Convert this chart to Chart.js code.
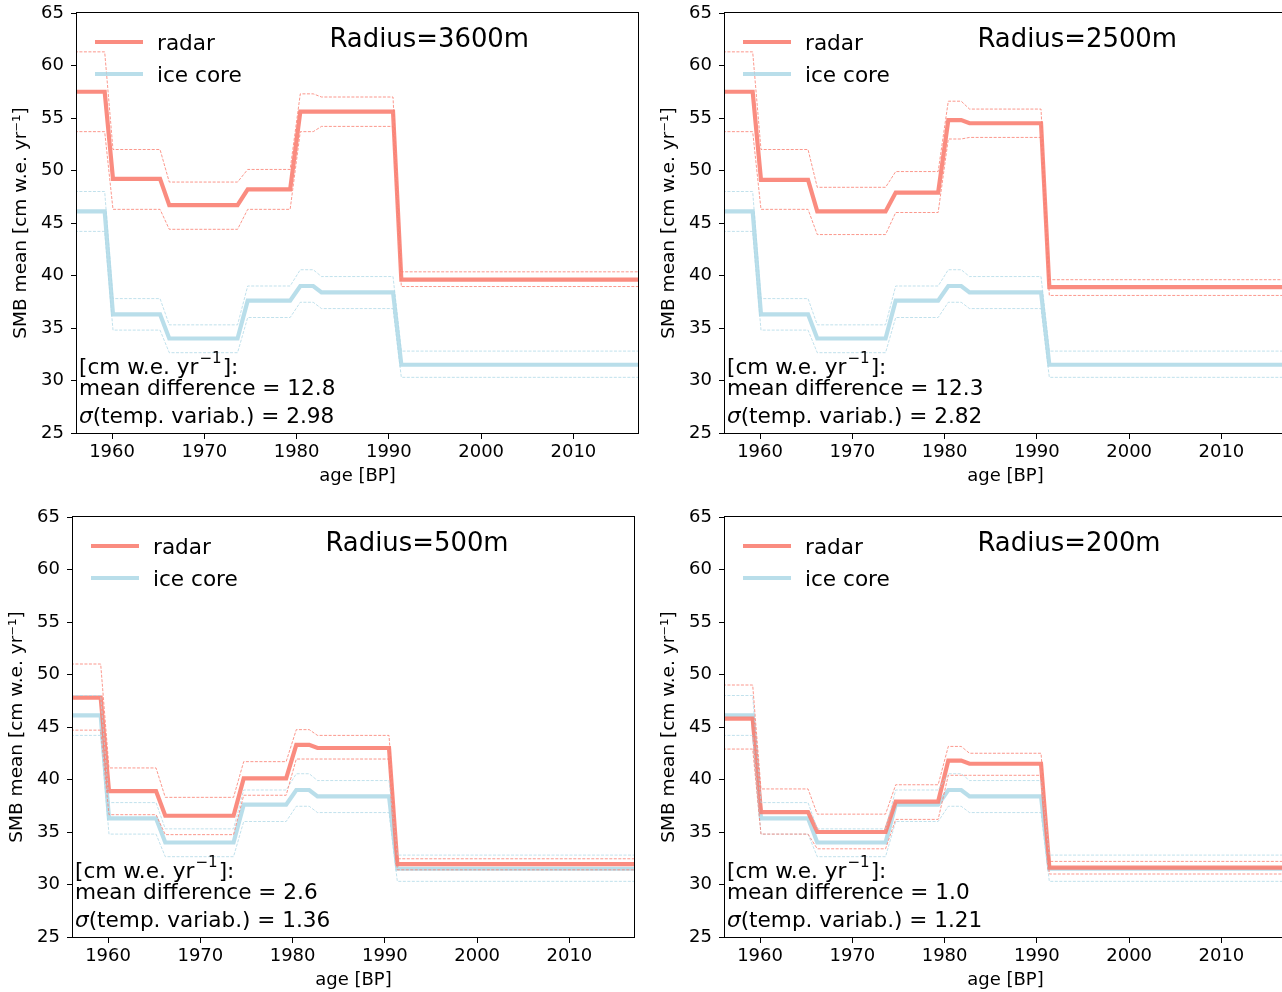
<!DOCTYPE html>
<html>
<head>
<meta charset="utf-8">
<script src="https://cdn.jsdelivr.net/npm/chart.js@4.4.0/dist/chart.umd.min.js"></script>
<style>
html, body { margin: 0; padding: 0; background: #fff; overflow: hidden; }
#wrap { position: relative; width: 1282px; height: 992px; overflow: hidden; }
canvas { position: absolute; }
</style>
</head>
<body>
<div id="wrap">
  <canvas id="c0" width="650" height="495" style="left:0px;top:0px"></canvas>
  <canvas id="c1" width="650" height="495" style="left:648px;top:0px"></canvas>
  <canvas id="c2" width="650" height="495" style="left:-4px;top:504px"></canvas>
  <canvas id="c3" width="650" height="495" style="left:648px;top:504px"></canvas>
</div>
<script>
// layer boundaries (years) -- every level is flat between start and end
var segStart = [1955, 1960.1, 1966.2, 1974.7, 1980.4, 1982.7, 1991.35];
var segEnd   = [1959.2, 1965.2, 1973.6, 1979.3, 1981.8, 1990.45, 2018];

var radii    = ['3600', '2500', '500', '200'];
var meanDiff = ['12.8', '12.3', '2.6', '1.0'];
var sigmaVar = ['2.98', '2.82', '1.36', '1.21'];

// radar SMB per panel
var radar3600 = [57.5, 49.2, 46.7, 48.2, 55.6, 55.6, 39.6];
var radar3600Hi = [61.3, 52.0, 48.9, 50.1, 57.3, 57.0, 40.35];
var radar3600Lo = [53.7, 46.3, 44.4, 46.3, 53.7, 54.2, 38.95];

var radar2500 = [57.5, 49.1, 46.1, 47.9, 54.8, 54.5, 38.9];
var radar2500Hi = [61.3, 52.0, 48.4, 49.9, 56.6, 55.85, 39.6];
var radar2500Lo = [53.7, 46.3, 43.9, 46.0, 53.0, 53.15, 38.1];

var radar500 = [47.8, 38.9, 36.55, 40.1, 43.3, 43.0, 31.95];
var radar500Hi = [51.0, 41.1, 38.3, 41.7, 44.75, 44.2, 32.45];
var radar500Lo = [44.7, 36.65, 34.75, 38.5, 41.95, 41.95, 31.4];

var radar200 = [45.8, 36.9, 35.0, 37.9, 41.8, 41.5, 31.6];
var radar200Hi = [49.0, 39.1, 36.7, 39.5, 43.15, 42.5, 32.2];
var radar200Lo = [42.9, 34.8, 33.4, 36.2, 40.4, 40.4, 31.0];

// ice core SMB (same in every panel)
var iceCore = [46.1, 36.3, 34.0, 37.6, 39.0, 38.4, 31.5];
var iceCoreHi = [48.0, 37.8, 35.3, 39.0, 40.55, 39.9, 32.8];
var iceCoreLo = [44.2, 34.8, 32.65, 36.0, 37.45, 36.85, 30.3];

var xTicks = [1960, 1970, 1980, 1990, 2000, 2010];
var yTicks = [25, 30, 35, 40, 45, 50, 55, 60, 65];

var radarSets = [
  [radar3600, radar3600Hi, radar3600Lo],
  [radar2500, radar2500Hi, radar2500Lo],
  [radar500, radar500Hi, radar500Lo],
  [radar200, radar200Hi, radar200Lo]
];

var RADAR = 'rgba(250,128,114,0.9)';
var ICE = 'rgba(173,216,230,0.85)';
var FONT = '"DejaVu Sans", "Liberation Sans", sans-serif';

function steps(levels) {
  var pts = [];
  for (var i = 0; i < levels.length; i++) {
    pts.push({ x: segStart[i], y: levels[i] });
    pts.push({ x: segEnd[i], y: levels[i] });
  }
  return pts;
}

function solid(levels, color) {
  return { data: steps(levels), borderColor: color, borderWidth: 4.2, pointRadius: 0, tension: 0, fill: false };
}
function dashed(levels, color) {
  return { data: steps(levels), borderColor: color, borderWidth: 0.9, borderDash: [3, 1.5], pointRadius: 0, tension: 0, fill: false };
}

var panelText = {
  id: 'panelText',
  afterDraw: function(chart) {
    var k = chart.options.plugins.panelText.index;
    var a = chart.chartArea, ctx = chart.ctx;
    ctx.save();
    // frame
    ctx.strokeStyle = '#000';
    ctx.lineWidth = 1;
    ctx.strokeRect(Math.round(a.left) - 0.5, Math.round(a.top) - 0.5, Math.round(a.right - a.left) + 1, Math.round(a.bottom - a.top) + 1);

    // legend
    ctx.lineWidth = 4.2;
    ctx.strokeStyle = RADAR;
    ctx.beginPath(); ctx.moveTo(a.left + 18, a.top + 29); ctx.lineTo(a.left + 66, a.top + 29); ctx.stroke();
    ctx.strokeStyle = ICE;
    ctx.beginPath(); ctx.moveTo(a.left + 18, a.top + 61); ctx.lineTo(a.left + 66, a.top + 61); ctx.stroke();
    ctx.fillStyle = '#000';
    ctx.textBaseline = 'alphabetic';
    ctx.textAlign = 'left';
    ctx.font = '21.6px ' + FONT;
    ctx.fillText('radar', a.left + 80, a.top + 37);
    ctx.fillText('ice core', a.left + 80, a.top + 69);

    // radius title
    ctx.font = '25.9px ' + FONT;
    ctx.fillText('Radius=' + radii[k] + 'm', a.left + 0.45 * (a.right - a.left), a.top + 34);

    // statistics
    var x = a.left + 2, y1 = a.bottom - 59, y2 = a.bottom - 38, y3 = a.bottom - 10;
    ctx.font = '21.6px ' + FONT;
    var t = '[cm w.e. yr';
    ctx.fillText(t, x, y1);
    var w = ctx.measureText(t).width;
    ctx.font = '15.1px ' + FONT;
    ctx.fillText('\u22121', x + w + 1, y1 - 11);
    var w2 = ctx.measureText('\u22121').width;
    ctx.font = '21.6px ' + FONT;
    ctx.fillText(']:', x + w + w2 + 2, y1);
    ctx.fillText('mean difference = ' + meanDiff[k], x, y2);
    ctx.font = 'italic 21.6px ' + FONT;
    ctx.fillText('\u03c3', x, y3);
    var ws = ctx.measureText('\u03c3').width;
    ctx.font = '21.6px ' + FONT;
    ctx.fillText('(temp. variab.) = ' + sigmaVar[k], x + ws, y3);
    ctx.restore();
  }
};

function makePanel(k) {
  var r = radarSets[k];
  new Chart(document.getElementById('c' + k), {
    type: 'line',
    data: {
      datasets: [
        dashed(r[1], RADAR),
        dashed(r[2], RADAR),
        dashed(iceCoreHi, ICE),
        dashed(iceCoreLo, ICE),
        solid(r[0], RADAR),
        solid(iceCore, ICE)
      ]
    },
    plugins: [panelText],
    options: {
      responsive: false,
      animation: false,
      devicePixelRatio: 1,
      layout: { padding: { left: 0, top: 13, right: 12, bottom: 0 } },
      plugins: {
        legend: { display: false },
        tooltip: { enabled: false },
        panelText: { index: k }
      },
      scales: {
        x: {
          type: 'linear', min: 1956.2, max: 2017,
          afterBuildTicks: function(s) { s.ticks = xTicks.map(function(v) { return { value: v }; }); },
          afterFit: function(s) { s.height = 62; s.paddingLeft = 0; s.paddingRight = 0; },
          grid: { drawOnChartArea: false, color: '#000', tickLength: 6 },
          border: { display: false },
          ticks: { color: '#000', padding: 3, maxRotation: 0, autoSkip: false,
                   font: { family: FONT, size: 18 },
                   callback: function(v) { return String(v); } },
          title: { display: true, text: 'age [BP]', color: '#000',
                   font: { family: FONT, size: 18 }, padding: { top: 0, bottom: 8 } }
        },
        y: {
          type: 'linear', min: 25, max: 65,
          afterBuildTicks: function(s) { s.ticks = yTicks.map(function(v) { return { value: v }; }); },
          afterFit: function(s) { s.width = 77; s.paddingTop = 0; s.paddingBottom = 0; },
          grid: { drawOnChartArea: false, color: '#000', tickLength: 6 },
          border: { display: false },
          ticks: { color: '#000', padding: 7, font: { family: FONT, size: 18 },
                   callback: function(v) { return String(v); } },
          title: { display: true, text: 'SMB mean [cm w.e. yr\u207b\u00b9]', color: '#000',
                   font: { family: FONT, size: 18.5 }, padding: { top: 10, bottom: 0 } }
        }
      }
    }
  });
}

for (var k = 0; k < 4; k++) makePanel(k);
</script>
</body>
</html>
